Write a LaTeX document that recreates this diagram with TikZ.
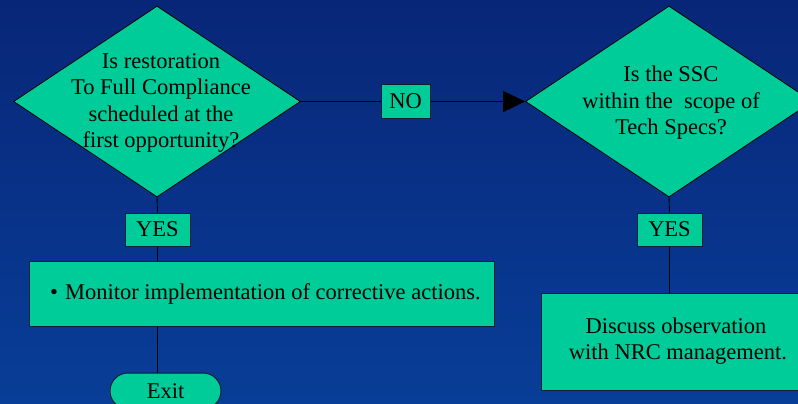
\documentclass[tikz,border=0pt]{standalone}
\usepackage{fontspec}
\setmainfont{Liberation Serif}
\usetikzlibrary{shapes.geometric,arrows.meta}
\definecolor{bgtop}{RGB}{8,38,120}
\definecolor{bgbot}{RGB}{8,62,152}
\definecolor{boxfill}{RGB}{0,204,153}
\definecolor{edge}{RGB}{10,30,50}
\tikzset{
  dia/.style={diamond, draw=black, line width=0.8pt, fill=boxfill, inner sep=0pt, minimum width=287pt, minimum height=191pt},
  txt/.style={font=\fontsize{22.5}{26.5}\selectfont, align=center, inner sep=0pt, text=black},
  lab/.style={draw=edge, line width=1pt, fill=boxfill, inner sep=0pt, font=\fontsize{22.5}{26}\selectfont, text=black},
  conn/.style={draw=black, line width=0.9pt}
}
\begin{document}
\begin{tikzpicture}[x=1pt,y=-1pt]
\clip (0,0) rectangle (798,404);
\shade[top color=bgtop, bottom color=bgbot] (0,0) rectangle (798,404);
\useasboundingbox (0,0) rectangle (798,404);
% diamonds
\node[dia] (d1) at (157,101.5) {};
\node[txt] (t1) at (161,103) {Is restoration\\To Full Compliance\\scheduled at the\\first opportunity?};
\node[dia] (d2) at (669,101.5) {};
\node[txt] (t2) at (671,103) {Is the SSC\\within the~~scope of\\Tech Specs?};
% NO label
\node[lab, minimum width=49pt, minimum height=33pt] (no) at (405.5,101.5) {NO};
% YES labels
\node[lab, minimum width=65pt, minimum height=33pt] (yes1) at (157.5,229.5) {YES};
\node[lab, minimum width=65pt, minimum height=33pt] (yes2) at (669.5,229.5) {YES};
% action boxes
\node[lab, minimum width=465pt, minimum height=65pt] (mon) at (261.5,293.5) {};
\node[txt, anchor=west] (montxt) at (50,294) {\textbullet\hspace{7pt}Monitor implementation of corrective actions.};
\node[lab, minimum width=274pt, minimum height=97pt] (disc) at (678,341.5) {};
\node[txt] (disctxt) at (676,341) {Discuss observation\\\hspace{4pt}with NRC management.};
% exit
\node[lab, minimum width=111pt, minimum height=36pt, rounded corners=18pt] (exit) at (165.5,391) {Exit};
% connectors
\draw[conn] (d1.east) -- (no.west);
\draw[conn, -{Triangle[length=22pt,width=21pt]}] (no.east) -- (d2.west);
\draw[conn] (d1.south) -- (yes1.north);
\draw[conn] (yes1.south) -- (mon.north -| yes1.south);
\draw[conn] (mon.south -| yes1.south) -- (exit.north -| yes1.south);
\draw[conn] (d2.south) -- (yes2.north);
\draw[conn] (yes2.south) -- (disc.north -| yes2.south);
\end{tikzpicture}
\end{document}
